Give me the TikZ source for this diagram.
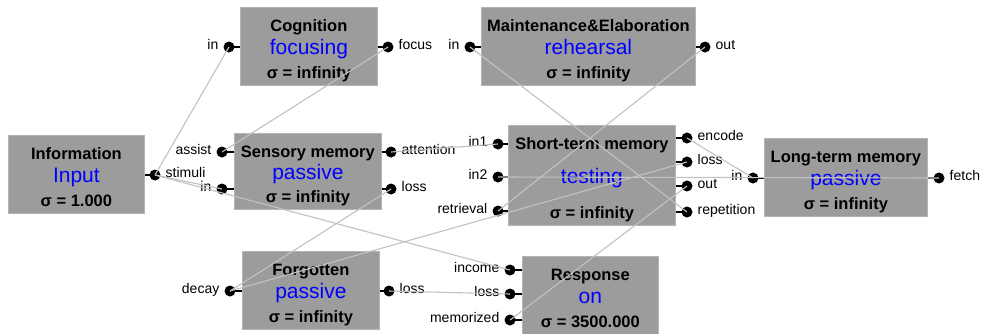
\documentclass[tikz,border=0pt]{standalone}
\usepackage{fontspec}
\setmainfont{Liberation Sans}
\definecolor{boxgray}{HTML}{9C9C9C}
\definecolor{boxedge}{HTML}{B4B4B4}
\definecolor{wire}{HTML}{C2C2C2}
\definecolor{modeblue}{HTML}{0000FF}
\tikzset{
  blk/.style={fill=boxgray, draw=boxedge, line width=0.8pt, inner sep=0pt, anchor=north west},
  ttl/.style={font=\fontsize{16.5}{18}\selectfont\bfseries, inner sep=0pt, anchor=base},
  mode/.style={font=\fontsize{21}{24}\selectfont, text=modeblue, inner sep=0pt, anchor=base},
  sig/.style={font=\fontsize{16.5}{18}\selectfont\bfseries, inner sep=0pt, anchor=base},
  pdot/.style={circle, fill=black, inner sep=0pt, outer sep=0pt, minimum size=11pt},
  plab/.style={font=\fontsize{14}{16}\selectfont, inner sep=0pt},
  stub/.style={line width=1.3pt, black},
  link/.style={line width=1.1pt, wire}
}
% a port on the left side of a block: dot plus label to its left
\newcommand\portL[3]{%
  \node[pdot] (#1) at (#2) {};
  \node[plab, anchor=mid east] (#1-l) at ([xshift=-5pt]#1.west) {#3};}
% a port on the right side of a block: dot plus label to its right
\newcommand\portR[3]{%
  \node[pdot] (#1) at (#2) {};
  \node[plab, anchor=mid west] (#1-l) at ([xshift=5pt]#1.east) {#3};}
% a block with its three text lines
\newcommand\block[8]{% name, x, y, w, h, title, mode, sigma
  \node[blk, minimum width=#4pt, minimum height=#5pt] (#1) at (#2,#3) {};
  \node[ttl] (#1-t) at ([yshift=-24pt]#1.north) {#6};
  \node[mode] (#1-m) at ([yshift=-8pt]#1.center) {#7};
  \node[sig] (#1-s) at ([yshift=7pt]#1.south) {#8};}
\begin{document}
\begin{tikzpicture}[x=1pt, y=-1pt]
  \fill[white] (0,0) rectangle (982,333);
  \useasboundingbox (0,0) rectangle (982,333);

  % blocks
  \block{info}{8}{135}{136}{78}{Information}{Input}{σ = 1.000}
  \block{cog}{240}{7}{137}{78}{Cognition}{focusing}{σ = infinity}
  \block{mnt}{481}{7}{214}{78}{Maintenance\&Elaboration}{rehearsal}{σ = infinity}
  \block{sen}{234}{133}{147}{76}{Sensory memory}{passive}{σ = infinity}
  \block{stm}{508}{125}{167}{100}{Short-term memory}{testing}{σ = infinity}
  \block{ltm}{764}{138}{163}{78}{Long-term memory}{passive}{σ = infinity}
  \block{fgt}{242}{251}{137}{78}{Forgotten}{passive}{σ = infinity}
  \block{rsp}{522}{256}{136}{78}{Response}{on}{σ = 3500.000}

  % ports
  \portR{info-stimuli}{155,175}{stimuli}
  \portL{cog-in}{229,47}{in}
  \portR{cog-focus}{388,47}{focus}
  \portL{mnt-in}{470,47}{in}
  \portR{mnt-out}{705,47}{out}
  \portL{sen-assist}{222,152}{assist}
  \portL{sen-in}{222,189}{in}
  \portR{sen-attention}{391,152}{attention}
  \portR{sen-loss}{391,189}{loss}
  \portL{stm-in1}{498,144}{in1}
  \portL{stm-in2}{498,177}{in2}
  \portL{stm-retrieval}{498,211}{retrieval}
  \portR{stm-encode}{687,138}{encode}
  \portR{stm-loss}{687,162}{loss}
  \portR{stm-out}{687,186}{out}
  \portR{stm-repetition}{687,212}{repetition}
  \portL{ltm-in}{753,178}{in}
  \portR{ltm-fetch}{939,178}{fetch}
  \portL{fgt-decay}{230,291}{decay}
  \portR{fgt-loss}{389,291}{loss}
  \portL{rsp-income}{510,270}{income}
  \portL{rsp-loss}{510,294}{loss}
  \portL{rsp-memorized}{510,320}{memorized}

  % stubs joining ports to their blocks
  \foreach \b/\p in {info/info-stimuli, cog/cog-focus, mnt/mnt-out,
                     sen/sen-attention, sen/sen-loss,
                     stm/stm-encode, stm/stm-loss, stm/stm-out, stm/stm-repetition,
                     ltm/ltm-fetch, fgt/fgt-loss}
    \draw[stub] (\b.east |- \p.center) -- (\p.center);
  \foreach \b/\p in {cog/cog-in, mnt/mnt-in, sen/sen-assist, sen/sen-in,
                     stm/stm-in1, stm/stm-in2, stm/stm-retrieval,
                     ltm/ltm-in, fgt/fgt-decay,
                     rsp/rsp-income, rsp/rsp-loss, rsp/rsp-memorized}
    \draw[stub] (\b.west |- \p.center) -- (\p.center);

  % couplings
  \draw[link] (info-stimuli.center) -- (cog-in.center);
  \draw[link] (info-stimuli.center) -- (sen-in.center);
  \draw[link] (info-stimuli.center) -- (rsp-income.center);
  \draw[link] (cog-focus.center) -- (sen-assist.center);
  \draw[link] (sen-attention.center) -- (stm-in1.center);
  \draw[link] (sen-loss.center) -- (fgt-decay.center);
  \draw[link] (stm-loss.center) -- (fgt-decay.center);
  \draw[link] (fgt-loss.center) -- (rsp-loss.center);
  \draw[link] (ltm-fetch.center) -- (stm-in2.center);
  \draw[link] (stm-encode.center) -- (ltm-in.center);
  \draw[link] (stm-out.center) -- (rsp-memorized.center);
  \draw[link] (stm-repetition.center) -- (mnt-in.center);
  \draw[link] (mnt-out.center) -- (stm-retrieval.center);
\end{tikzpicture}
\end{document}
